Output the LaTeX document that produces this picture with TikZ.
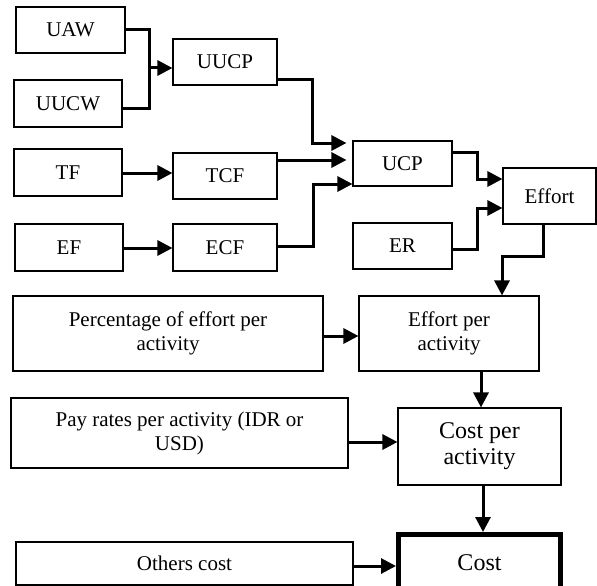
\documentclass[tikz,border=0pt]{standalone}
\usepackage{fontspec}
\setmainfont{Liberation Serif}
\usetikzlibrary{arrows.meta}
\begin{document}
\begin{tikzpicture}[x=1pt,y=-1pt,
  box/.style={draw, line width=1.1pt, inner sep=0pt, align=center, font=\fontsize{21}{24}\selectfont},
  bigbox/.style={box, font=\fontsize{24}{26}\selectfont},
  conn/.style={line width=3pt},
  arr/.style={line width=3pt, -{Triangle[length=15pt,width=15pt]}},
  ]
\useasboundingbox (0,0) rectangle (597,586);
% nodes
\node[box, minimum width=109pt, minimum height=46pt] (uaw) at (70.5,30) {UAW};
\node[box, minimum width=108pt, minimum height=47pt] (uucw) at (68,103.5) {UUCW};
\node[box, minimum width=104pt, minimum height=46pt] (uucp) at (225,62) {UUCP};
\node[box, minimum width=108pt, minimum height=47pt] (tf) at (68,172.5) {TF};
\node[box, minimum width=104pt, minimum height=46pt] (tcf) at (225,176) {TCF};
\node[box, minimum width=108pt, minimum height=47pt] (ef) at (69,247.5) {EF};
\node[box, minimum width=104pt, minimum height=47pt] (ecf) at (225,247.5) {ECF};
\node[box, minimum width=99pt, minimum height=45pt] (ucp) at (402.5,163.5) {UCP};
\node[box, minimum width=93pt, minimum height=56pt] (effort) at (549.5,196) {Effort};
\node[box, minimum width=99pt, minimum height=46pt] (er) at (402.5,246) {ER};
\node[box, minimum width=310pt, minimum height=75pt] (pct) at (168,333.5) {Percentage of effort per\\activity};
\node[box, minimum width=180pt, minimum height=75pt] (epa) at (449,333.5) {Effort per\\activity};
\node[box, minimum width=337pt, minimum height=70pt] (pay) at (179.5,433) {Pay rates per activity (IDR or\\USD)};
\node[bigbox, minimum width=163pt, minimum height=77pt] (cpa) at (479.5,446.5) {Cost per\\activity};
\node[box, minimum width=337pt, minimum height=43pt] (others) at (184.5,563.5) {Others cost};
\node[bigbox, line width=5pt, minimum width=162pt, minimum height=57pt] (cost) at (479.5,563) {Cost};
% connectors
\coordinate (j1) at (149,68);
\draw[conn] (uaw.east) -| (j1);
\draw[conn] ([yshift=-4.5pt]uucw.east) -| (j1);
\draw[arr] (j1) -- (j1 -| uucp.west);
\draw[arr] ([yshift=-0.5pt]tf.east) -- ([yshift=-0.5pt]tf.east -| tcf.west);
\draw[arr] ([yshift=-0.5pt]ef.east) -- ([yshift=-0.5pt]ef.east -| ecf.west);
\draw[arr, shorten >=6pt] ([yshift=-18pt]uucp.east) -| ([xshift=-40pt,yshift=20.5pt]ucp.west) -- ([yshift=20.5pt]ucp.west);
\draw[arr, shorten >=6pt] ([yshift=16pt]tcf.east) -- ([yshift=16pt]tcf.east -| ucp.west);
\draw[arr] ([yshift=1.5pt]ecf.east) -| ([xshift=-39pt,yshift=-20.5pt]ucp.west) -- ([yshift=-20.5pt]ucp.west);
\draw[arr] ([yshift=11.5pt]ucp.east) -| ([xshift=-25pt,yshift=17pt]effort.west) -- ([yshift=17pt]effort.west);
\draw[arr] ([yshift=-3pt]er.east) -| ([xshift=-25pt,yshift=-12pt]effort.west) -- ([yshift=-12pt]effort.west);
\draw[arr] ([xshift=-6.5pt]effort.south) |- ([xshift=53pt,yshift=39pt]epa.north) -- ([xshift=53pt]epa.north);
\draw[arr] ([yshift=-2.5pt]pct.east) -- ([yshift=-2.5pt]pct.east -| epa.west);
\draw[arr] ([xshift=32pt]epa.south) -- ([xshift=32pt]epa.south |- cpa.north);
\draw[arr] ([yshift=-9pt]pay.east) -- ([yshift=-9pt]pay.east -| cpa.west);
\draw[arr] ([xshift=3.5pt]cpa.south) -- ([xshift=3.5pt]cpa.south |- cost.north);
\draw[arr] ([yshift=-2.5pt]others.east) -- ([yshift=-2.5pt]others.east -| cost.west);
\end{tikzpicture}
\end{document}
